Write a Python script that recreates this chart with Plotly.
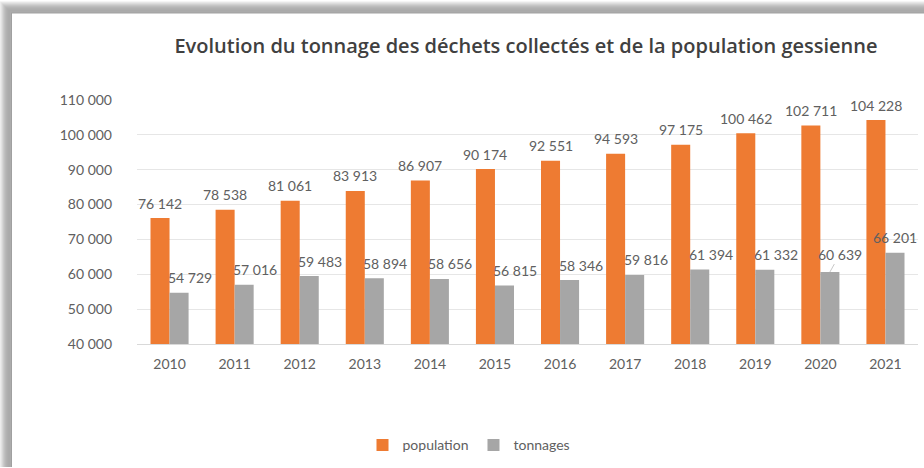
import plotly.graph_objects as go

years = [2010, 2011, 2012, 2013, 2014, 2015, 2016, 2017, 2018, 2019, 2020, 2021]
population = [76142, 78538, 81061, 83913, 86907, 90174, 92551, 94593, 97175, 100462, 102711, 104228]
tonnages = [54729, 57016, 59483, 58894, 58656, 56815, 58346, 59816, 61394, 61332, 60639, 66201]
y_ticks = [40000, 50000, 60000, 70000, 80000, 90000, 100000, 110000]
title_text = "Evolution du tonnage des déchets collectés et de la population gessienne"

W, H = 924, 468
ML, MR, MT, MB = 137, 6, 100, 120
PW, PH = W - ML - MR, H - MT - MB

ORANGE = "#EE7B32"
GRAY = "#A6A6A6"
TXT = "#606060"
FONT = "Lato"


def fmt(v):
    return f"{v:,}".replace(",", " ")


def px2x(px):
    return (px - ML) / PW


def py2y(py):
    return (H - MB - py) / PH


fig = go.Figure()
fig.add_bar(x=years, y=population, name="population", marker=dict(color=ORANGE, line=dict(width=0)))
fig.add_bar(x=years, y=tonnages, name="tonnages", marker=dict(color=GRAY, line=dict(width=0)))

bargap = 0.415
half = (1 - bargap) / 2 * PW / len(years) / 2  # half bar width in px

lab_font = dict(family=FONT, size=14, color=TXT)
annotations = []
for yr, v in zip(years, population):
    annotations.append(dict(x=yr, y=v, text=fmt(v), showarrow=False, xshift=-half,
                            yshift=15, yanchor="middle", font=lab_font))
for i, (yr, v) in enumerate(zip(years, tonnages)):
    if i == len(years) - 1:
        annotations.append(dict(x=yr, y=v, text=fmt(v), showarrow=False, xshift=half,
                                yshift=15, yanchor="middle", font=lab_font))
    elif i == len(years) - 2:
        annotations.append(dict(x=yr, y=v, text=fmt(v), showarrow=True, xshift=half,
                                ax=10, ay=-18, arrowhead=0, arrowwidth=1,
                                arrowcolor="#C8C8C8", standoff=0, font=lab_font))
    else:
        annotations.append(dict(x=yr, y=v, text=fmt(v), showarrow=False, xshift=half + 11,
                                yshift=15, yanchor="middle", font=lab_font))

# card with drop shadow (styling)
shapes = []
greys = [236, 226, 214, 202, 192, 184, 178, 174, 171, 170, 172, 160]
for i, g in enumerate(greys):
    shapes.append(dict(type="rect", xref="paper", yref="paper", layer="below",
                       x0=px2x(i), x1=px2x(W + 5), y0=py2y(H + 5), y1=py2y(i),
                       line=dict(width=0), fillcolor=f"rgb({g},{g},{g})"))
shapes.append(dict(type="rect", xref="paper", yref="paper", layer="below",
                   x0=px2x(12), x1=px2x(W + 5), y0=py2y(H + 5), y1=py2y(12),
                   line=dict(width=0), fillcolor="white"))

fig.update_layout(
    width=W, height=H,
    margin=dict(l=ML, r=MR, t=MT, b=MB),
    paper_bgcolor="white",
    plot_bgcolor="rgba(0,0,0,0)",
    separators=", ",
    bargap=bargap, bargroupgap=0,
    font=dict(family=FONT, color=TXT),
    title=dict(text=title_text, x=px2x(526), xref="paper", xanchor="center",
               y=1 - 46 / H, yref="container", yanchor="middle",
               font=dict(family="Open Sans", size=20, weight=600, color="#404040")),
    xaxis=dict(tickvals=years, ticktext=[str(y) for y in years], range=[years[0] - 0.5, years[-1] + 0.5],
               showgrid=False, showline=True, linecolor="#D9D9D9", linewidth=1,
               ticks="", tickfont=dict(family=FONT, size=14, color=TXT), ticklabelstandoff=7),
    yaxis=dict(range=[40000, 110000], tickvals=y_ticks, tickformat=",d",
               showgrid=True, gridcolor="#E6E6E6", gridwidth=1, zeroline=False,
               ticks="", tickfont=dict(family=FONT, size=14, color=TXT), ticklabelstandoff=24),
    legend=dict(orientation="h", x=px2x(469), xanchor="center", y=py2y(451), yanchor="middle",
                font=dict(family=FONT, size=14, color=TXT), bgcolor="rgba(0,0,0,0)",
                itemwidth=30, traceorder="normal"),
    annotations=annotations,
    shapes=shapes,
    showlegend=True,
)

fig.write_html("out.html", config={"displayModeBar": False},
               post_script="document.body.style.margin='0';document.body.style.overflow='hidden';")
